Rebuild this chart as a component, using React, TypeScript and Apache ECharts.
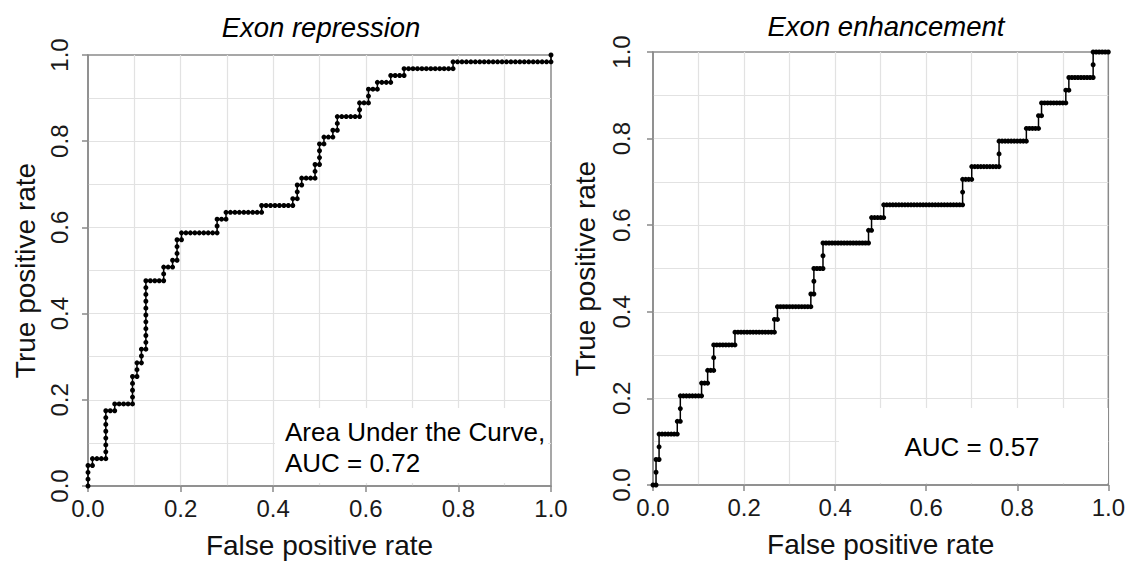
import { useEffect, useRef } from "react";
import * as echarts from "echarts";

// Ranked outcomes of each classifier, run-length coded:
// a positive entry is a run of true positives, a negative entry a run of false positives.
const repressionRuns = [
  3, -1, 1, -3, 7, -2, 1, -4, 4, -1, 2, -1, 2, -1, 10, -4, 2, -2, 1, -1, 3, -1, 1, -8, 2, -2, 1, -8, 1, -7,
  1, -1, 2, -1, 1, -3, 2, -1, 3, -1, 1, -2, 1, -1, 2, -5, 2, -2, 2, -2, 1, -3, 1, -3, 1, -11, 1, -22, 1,
];
const enhancementRuns = [
  -1, 2, -1, 2, -6, 1, -1, 2, -7, 1, -2, 1, -2, 2, -7, 1, -13, 1, -1, 1, -11, 1, -1, 2, -3, 2, -15, 1, -1, 1,
  -4, 1, -26, 2, -3, 1, -9, 2, -9, 1, -4, 1, -1, 1, -8, 1, -1, 1, -8, 2, -5,
];

const panelTitles = ["Exon repression", "Exon enhancement"];
const aucLabels = ["Area Under the Curve,\nAUC = 0.72", "AUC = 0.57"];
const xAxisTitle = "False positive rate";
const yAxisTitle = "True positive rate";

const FONT = "'Liberation Sans', Arial, Helvetica, sans-serif";
const AXIS_GREY = "#8a8a8a";
const GRID_GREY = "#e2e2e2";

// Cumulative (FPR, TPR) at every rank of the sorted outcomes.
function rocPoints(runs: number[]): [number, number][] {
  const nPos = runs.filter((r) => r > 0).reduce((a, b) => a + b, 0);
  const nNeg = -runs.filter((r) => r < 0).reduce((a, b) => a + b, 0);
  let tp = 0;
  let fp = 0;
  const pts: [number, number][] = [[0, 0]];
  for (const r of runs) {
    for (let i = 0; i < Math.abs(r); i++) {
      if (r > 0) tp++;
      else fp++;
      pts.push([fp / nNeg, tp / nPos]);
    }
  }
  return pts;
}

const panels = [
  { left: 88, top: 55, width: 463, height: 431, yLabelMargin: 17, yNameGap: 49 },
  { left: 653, top: 52, width: 458, height: 433, yLabelMargin: 20, yNameGap: 54 },
];

function axisCommon() {
  return {
    type: "value" as const,
    min: 0,
    max: 1,
    interval: 0.2,
    axisLine: { show: true, lineStyle: { color: AXIS_GREY, width: 1.5 } },
    axisTick: { show: true, length: 6, lineStyle: { color: AXIS_GREY, width: 1.5 } },
    minorTick: { show: false, splitNumber: 2 },
    splitLine: { show: true, showMinLine: false, showMaxLine: false, lineStyle: { color: GRID_GREY, width: 1.2 } },
    minorSplitLine: { show: true, lineStyle: { color: GRID_GREY, width: 1.2 } },
    axisLabel: {
      color: "#1a1a1a",
      fontSize: 24,
      fontFamily: FONT,
      formatter: (v: number) => v.toFixed(1),
    },
    nameLocation: "middle" as const,
    nameTextStyle: { color: "#111", fontSize: 28, fontFamily: FONT },
  };
}

export default function App() {
  const ref = useRef<HTMLDivElement>(null);

  useEffect(() => {
    if (!ref.current) return;
    const chart = echarts.init(ref.current, undefined, { renderer: "svg" });

    const curves = [rocPoints(repressionRuns), rocPoints(enhancementRuns)];

    const grids = panels.map((p) => ({
      left: p.left,
      top: p.top,
      width: p.width,
      height: p.height,
      show: true,
      borderColor: AXIS_GREY,
      borderWidth: 1.5,
      backgroundColor: "transparent",
    }));

    const xAxes = panels.map((_, i) => ({
      ...axisCommon(),
      gridIndex: i,
      name: xAxisTitle,
      nameGap: 45,
      axisLabel: { ...axisCommon().axisLabel, margin: 10 },
    }));

    const yAxes = panels.map((p, i) => ({
      ...axisCommon(),
      gridIndex: i,
      name: yAxisTitle,
      nameGap: p.yNameGap,
      axisLabel: { ...axisCommon().axisLabel, rotate: 90, margin: p.yLabelMargin },
    }));

    const series = curves.map((data, i) => ({
      type: "line" as const,
      xAxisIndex: i,
      yAxisIndex: i,
      data,
      showSymbol: true,
      showAllSymbol: true,
      symbol: "circle",
      symbolSize: 5,
      itemStyle: { color: "#000" },
      lineStyle: { color: "#000", width: 1.5 },
      z: 5,
    }));

    const titleStyle = {
      fontSize: 27.5,
      fontStyle: "italic",
      fontFamily: FONT,
      fill: "#000",
      textAlign: "center",
      textVerticalAlign: "middle",
    };

    const graphic: any[] = [
      { type: "text", x: 321, y: 27, style: { ...titleStyle, text: panelTitles[0] } },
      { type: "text", x: 886, y: 26, style: { ...titleStyle, text: panelTitles[1] } },
      // legend boxes carrying the AUC values
      { type: "rect", shape: { x: 275, y: 408, width: 273, height: 75 }, style: { fill: "#fff" }, z: 3 },
      { type: "rect", shape: { x: 839, y: 408, width: 269, height: 75 }, style: { fill: "#fff" }, z: 3 },
      {
        type: "text",
        x: 285,
        y: 447,
        z: 4,
        style: {
          text: aucLabels[0],
          fontSize: 26,
          lineHeight: 31,
          fontFamily: FONT,
          fill: "#000",
          textAlign: "left",
          textVerticalAlign: "middle",
        },
      },
      {
        type: "text",
        x: 972,
        y: 447,
        z: 4,
        style: {
          text: aucLabels[1],
          fontSize: 26,
          fontFamily: FONT,
          fill: "#000",
          textAlign: "center",
          textVerticalAlign: "middle",
        },
      },
    ];

    chart.setOption({
      animation: false,
      backgroundColor: "#fff",
      grid: grids,
      xAxis: xAxes,
      yAxis: yAxes,
      series,
      graphic,
    });

    return () => chart.dispose();
  }, []);

  return (
    <div
      ref={ref}
      style={{ position: "absolute", left: 0, top: 0, width: 1128, height: 565 }}
    />
  );
}
